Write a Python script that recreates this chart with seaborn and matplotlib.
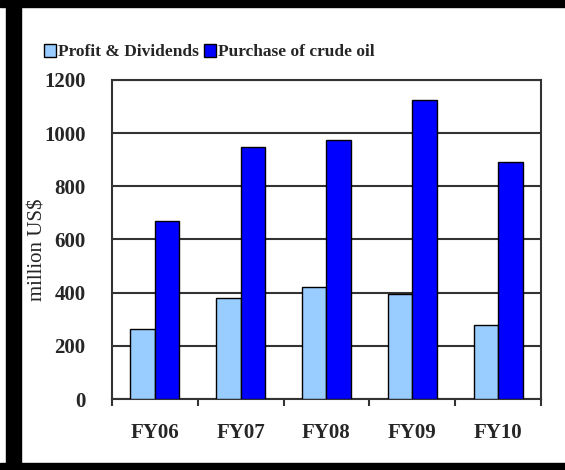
import matplotlib
matplotlib.use("Agg")
import matplotlib.pyplot as plt
from matplotlib.patches import Rectangle, Patch
import seaborn as sns
import pandas as pd

years = ["FY06", "FY07", "FY08", "FY09", "FY10"]
profit_dividends = [264, 381, 423, 395, 279]
crude_oil_purchase = [668, 947, 975, 1125, 890]
series_names = ["Profit & Dividends", "Purchase of crude oil"]
colors = ["#99CCFF", "#0000FF"]
y_ticks = [0, 200, 400, 600, 800, 1000, 1200]

df = pd.DataFrame({
    "year": years * 2,
    "value": profit_dividends + crude_oil_purchase,
    "series": [series_names[0]] * len(years) + [series_names[1]] * len(years),
})

sns.set_theme(style="white")
plt.rcParams["font.family"] = ["Liberation Serif", "DejaVu Serif"]

fig = plt.figure(figsize=(5.65, 4.7), dpi=100)
ax = fig.add_axes([0.198, 0.151, 0.9575 - 0.198, 0.83 - 0.151])

sns.barplot(data=df, x="year", y="value", hue="series", order=years,
            hue_order=series_names, palette=colors, width=0.57, gap=0,
            edgecolor="black", linewidth=1.0, saturation=1, ax=ax, legend=False,
            zorder=3)

ax.set_ylim(0, 1200)
ax.set_xlim(-0.5, len(years) - 0.5)
ax.set_yticks(y_ticks)
ax.set_yticklabels([str(t) for t in y_ticks], fontsize=15, fontweight="bold")
ax.yaxis.grid(True, color="#333333", linewidth=1.5, zorder=0)
ax.set_axisbelow(True)

ax.set_xticks(range(len(years)))
ax.set_xticklabels(years, fontsize=15, fontweight="bold")
ax.tick_params(axis="x", length=0, pad=17)
ax.tick_params(axis="y", length=0, pad=19)
# category boundary tick marks under the x axis
ax.set_xticks([i - 0.5 for i in range(len(years) + 1)], minor=True)
ax.tick_params(axis="x", which="minor", length=5, width=1.5, color="#333333",
               direction="out", bottom=True)

ax.set_xlabel("")
ax.set_ylabel("million US$", fontsize=15)
ax.yaxis.set_label_coords(-0.150, 0.467)
for s in ax.spines.values():
    s.set_visible(True)
    s.set_color("#333333")
    s.set_linewidth(1.5)

handles = [Patch(facecolor=c, edgecolor="black", linewidth=1.0) for c in colors]
fig.legend(handles, series_names, loc="center left",
           bbox_to_anchor=(0.078, 1 - 52 / 470), ncol=2, frameon=False,
           prop={"size": 12.5, "weight": "bold"}, handlelength=0.7,
           handleheight=0.75, handletextpad=0.12, columnspacing=0.25,
           borderaxespad=0, borderpad=0)

# black frame around the picture
fig.add_artist(Rectangle((6 / 565, 0), 15 / 565, 1, transform=fig.transFigure,
                         color="black", zorder=10))
fig.add_artist(Rectangle((0, 1 - 7 / 470), 1, 7 / 470, transform=fig.transFigure,
                         color="black", zorder=10))
fig.add_artist(Rectangle((0, 0), 1, 7 / 470, transform=fig.transFigure,
                         color="black", zorder=10))

fig.savefig("out.png", dpi=100, facecolor="white")
